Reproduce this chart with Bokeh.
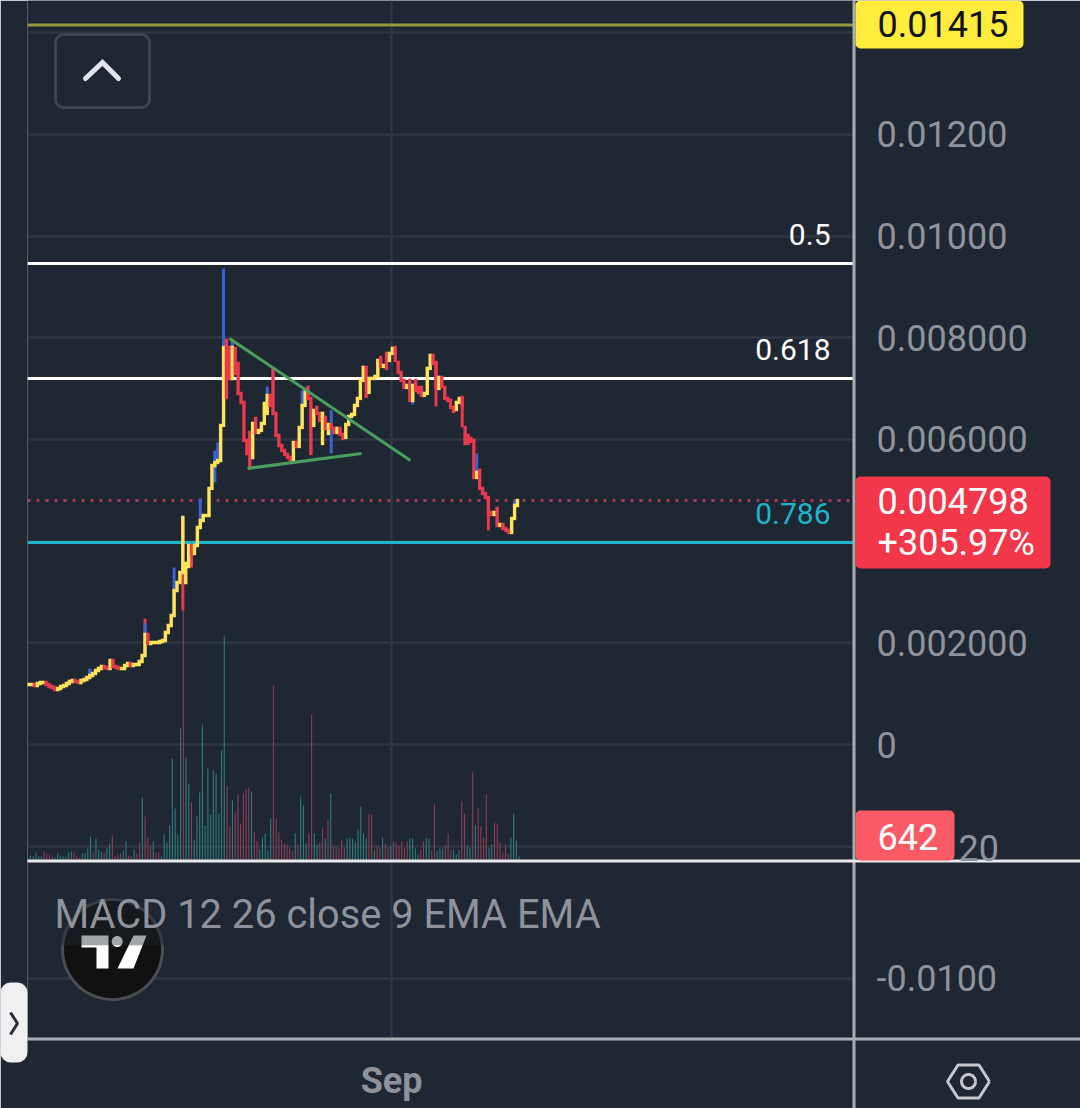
import numpy as np
from bokeh.embed import file_html
from bokeh.resources import INLINE
from bokeh.plotting import figure
from bokeh.core.properties import value
from bokeh.models import BoxAnnotation, FixedTicker, Range1d, Grid

# ---------------- data (prices in millionths) ----------------
closes_e6 = [
    1180, 1180, 1161, 1200, 1220, 1220, 1180, 1141, 1121, 1082,
    1102, 1141, 1161, 1200, 1239, 1259, 1239, 1220, 1259, 1279,
    1318, 1357, 1397, 1456, 1495, 1534, 1515, 1495, 1652, 1534,
    1515, 1495, 1495, 1554, 1593, 1554, 1574, 1574, 1633, 1751,
    2164, 1987, 2006, 2006, 2006, 2026, 2046, 2203, 2341, 2537,
    3029, 3187, 3383, 4465, 3560, 3914, 3757, 3914, 4268, 4406,
    4504, 4504, 5036, 5488, 5547, 5586, 6275, 7809, 6825, 7199,
    7809, 7298, 6904, 6727, 5980, 5724, 5468, 6314, 6137, 6176,
    6314, 6707, 6865, 6668, 6511, 6078, 5881, 5783, 5704, 5645,
    5567, 5940, 5862, 6235, 6668, 6963, 6806, 5724, 6570, 6511,
    6373, 6511, 6216, 6294, 6216, 6137, 6216, 6098, 6019, 6294,
    6452, 6491, 6668, 6806, 7160, 7416, 6845, 7199, 7199, 7239,
    7553, 7435, 7455, 7396, 7691, 7789, 7553, 7317, 7160, 7022,
    7062, 6766, 7062, 6963, 6924, 6865, 6904, 7396, 7652, 7494,
    7002, 7219, 7042, 6806, 6766, 6629, 6550, 6727, 6806, 6668,
    5921, 5921, 5960, 5252, 5350, 5036, 4937, 4858, 4563, 4524,
    4563, 4308, 4327, 4249, 4209, 4170, 4445, 4701, 4798,
]
gap_idx = [54, 55, 68, 69, 70, 71, 72, 76, 77, 78, 82, 83, 84, 91, 96, 98, 99, 101, 102, 103,
           109, 116, 117, 121, 123, 124, 126, 127, 131, 132, 133, 134, 135, 137, 139, 140,
           143, 147, 149, 150, 151, 152, 153, 155, 161]
gap_open = [3187, 3501, 7947, 7809, 7199, 7789, 7494, 6137, 5645, 6412, 6511, 6865, 7396, 5606,
            7022, 6275, 6629, 5920, 6432, 6117, 6039, 7416, 6924, 7612, 7691, 7553, 7809, 7514,
            7160, 6766, 7160, 7022, 7022, 6904, 7652, 7514, 7022, 6589, 6825, 6235, 6078, 6019,
            5980, 5390, 4642]
wick_idx = [21, 40, 40, 50, 53, 56, 59, 64, 65, 67, 70, 82, 94, 104, 132, 140, 149, 154, 158, 167]
wick_high = [1495, 2478, 2380, 3482, None, None, 4838, 5783, 5941, 9363, 7947, 7042, 6963, 6570,
             None, None, None, 5724, None, 4798]
wick_low = [None, None, None, None, 2636, 3481, 4308, 5154, None, None, None, None, None, 5724,
            6688, 6648, 6235, None, 4209, None]
wick_side = ["b", "r", "b", "b", "r", "r", "b", "b", "b", "b", "b", "b", "b", "b", "b", "r", "r", "b", "r", "b"]

volumes = [
    3, 5, 4, 8, 4, 4, 9, 7, 6, 4,
    3, 7, 5, 4, 4, 8, 9, 9, 5, 3,
    7, 7, 12, 24, 8, 22, 11, 9, 8, 12,
    17, 25, 4, 6, 7, 10, 19, 5, 4, 11,
    7, 18, 63, 44, 23, 15, 19, 8, 8, 4,
    26, 18, 35, 102, 52, 26, 132, 250, 103, 77,
    58, 21, 44, 68, 136, 35, 92, 46, 90, 87,
    47, 110, 224, 75, 34, 60, 49, 66, 37, 67,
    71, 73, 69, 29, 19, 11, 23, 27, 10, 42,
    175, 42, 28, 21, 17, 16, 12, 9, 27, 16,
    64, 55, 17, 27, 146, 27, 16, 18, 32, 22,
    41, 67, 14, 14, 12, 20, 13, 22, 23, 22,
    18, 31, 54, 27, 22, 47, 46, 10, 15, 13,
    23, 17, 13, 15, 19, 18, 15, 19, 12, 19,
    22, 22, 12, 6, 10, 19, 23, 22, 10, 56,
    10, 12, 12, 15, 27, 11, 11, 6, 10, 59,
    47, 15, 13, 88, 35, 52, 34, 23, 66, 13,
    16, 38, 36, 18, 8, 16, 7, 23, 47, 20,
    4,
]
volume_side = ("ggggggrrrr" "gggggggrrr" "ggggrgggrg" "grrrrggrrg" "rrgrrrgrrg" "gggggggrgg"
               "rggggggggg" "gggrrgrrrr" "rrgrrggggg" "rrrrrrrrgr" "gggrrggrrg" "rgrrrrrggg"
               "gggggrrgrr" "grrgrrrrrr" "ggggrrggrr" "gggrrrgggr" "rggrgrrrrg" "grrrrrrggg" "g")

fib_levels = [0.01415, 0.009459, 0.007198, 0.003972]
fib_names = ["", "0.5", "0.618", "0.786"]
last_price = 0.004798
trend_x = [[73.9, 140.2], [80.5, 122.3]]
trend_y = [[0.007984, 0.005585], [0.005428, 0.005723]]
grid_prices = [0.014, 0.012, 0.010, 0.008, 0.006, 0.004, 0.002, 0.0, -0.002, -0.0046]
price_ticks = {0.012: "0.01200", 0.010: "0.01000", 0.008: "0.008000", 0.006: "0.006000",
               0.002: "0.002000", 0.0: "0", -0.0046: "-0.0100"}
sep_bar = 133.3

BG = "#1f2733"
YEL, RED, BLUE = "#ffe45a", "#e8394e", "#3b63d6"
TEAL, VRED = "#2c7d7c", "#8b3f55"
AX = "#a9acb2"
TXT = "#8e939b"

# ---------------- screen helpers for chrome ----------------
BAR_PX, BAR_X0 = 2.73, 27.2
PX_PER_PRICE, ZERO_PY = 50850.0, 744.0
X = lambda px: (np.asarray(px, float) - BAR_X0) / BAR_PX
Y = lambda py: (ZERO_PY - np.asarray(py, float)) / PX_PER_PRICE

W, H = 1080, 1108
FL, FR, FT, FB = 27, 853, 0, 1038

p = figure(width=W, height=H, output_backend="svg", toolbar_location=None,
           x_range=Range1d(float(X(FL)), float(X(FR))), y_range=Range1d(float(Y(FB)), float(Y(FT))),
           y_axis_location="right", min_border_left=FL, min_border_right=W - FR,
           min_border_top=FT, min_border_bottom=H - FB,
           background_fill_color=BG, border_fill_color=BG, outline_line_color=None)
p.styles = {"position": "absolute", "left": "0px", "top": "0px"}
p.extra_y_ranges = {"vol": Range1d(860 - FB, 860 - FT)}

p.xgrid.visible = False
p.ygrid.visible = False
p.add_layout(Grid(dimension=1, ticker=FixedTicker(ticks=grid_prices), grid_line_color="#2f3744", grid_line_width=2.5))
p.add_layout(Grid(dimension=0, ticker=FixedTicker(ticks=[sep_bar]), grid_line_color="#2f3744", grid_line_width=2.5))

ya = p.yaxis[0]
ya.ticker = FixedTicker(ticks=list(price_ticks))
ya.major_label_overrides = price_ticks
ya.major_tick_line_color = None
ya.minor_tick_line_color = None
ya.axis_line_color = None
ya.major_label_standoff = 17
ya.major_label_text_font = "Roboto"
ya.major_label_text_font_size = "36px"
ya.major_label_text_color = TXT

xa = p.xaxis[0]
xa.ticker = FixedTicker(ticks=[sep_bar])
xa.major_label_overrides = {sep_bar: "Sep"}
xa.major_tick_line_color = None
xa.minor_tick_line_color = None
xa.axis_line_color = None
xa.major_label_standoff = 15
xa.major_label_text_font = "Roboto"
xa.major_label_text_font_style = "bold"
xa.major_label_text_font_size = "36px"
xa.major_label_text_color = TXT

# volume
vx = np.arange(len(volumes), dtype=float)
p.segment(vx, 0, vx, volumes, y_range_name="vol", line_width=1.1,
          line_color=[TEAL if s == "g" else VRED for s in volume_side])

# logo
th = np.linspace(0, 2 * np.pi, 80)
p.patch(X(112 + 50 * np.cos(th)), Y(949 + 50 * np.sin(th)), fill_color="#111111", line_color="#4a4d52", line_width=3)
p.patch(X([81, 108, 108, 96, 96, 81]), Y([935, 935, 968, 968, 947, 947]), fill_color="white", line_color=None)
p.patch(X([133, 146, 133, 117]), Y([935, 935, 968, 968]), fill_color="white", line_color=None)
p.patch(X(116.7 + 5.5 * np.cos(th)), Y(941 + 5.5 * np.sin(th)), fill_color="white", line_color=None)
th2 = np.linspace(np.pi + 0.08, 2 * np.pi - 0.08, 40)
p.patch(X(112 + 52 * np.cos(th2)), Y(949 + 52 * np.sin(th2)), fill_color=BG, fill_alpha=0.42, line_color=None)

# fib levels
p.segment(X(FL), fib_levels, X(FR), fib_levels, line_width=[3, 3.2, 3.2, 3.2],
          line_color=["#97973f", "#ffffff", "#ffffff", "#1eb4cc"])
p.segment(X(FL), last_price, X(FR), last_price, line_width=3, line_color="#a23d55", line_dash="3 6")

# candles
closes = np.array(closes_e6, float) / 1e6
opens = np.r_[closes[0], closes[:-1]]
opens[gap_idx] = np.array(gap_open, float) / 1e6
CANDLE_STEP, CANDLE_SHIFT = 2.91 / BAR_PX, (28.1 - BAR_X0) / BAR_PX
cx = np.arange(len(closes)) * CANDLE_STEP + CANDLE_SHIFT

wx, w0, w1, wc = [], [], [], []
for i, h, l, s in zip(wick_idx, wick_high, wick_low, wick_side):
    top = h / 1e6 if h is not None else max(opens[i], closes[i])
    bot = l / 1e6 if l is not None else min(opens[i], closes[i])
    wx.append(cx[i]); w0.append(bot); w1.append(top); wc.append(BLUE if s == "b" else RED)
p.segment(wx, w0, wx, w1, line_width=3, line_color=wc)
p.segment(cx, opens, cx, closes, line_width=3.4, line_cap="square",
          line_color=[YEL if c >= o else RED for o, c in zip(opens, closes)])

# trend lines
p.multi_line(trend_x, trend_y, line_color="#4b9f5d", line_width=3)

# fib labels
fx = [float(X(830))] * 3
p.text(fx, fib_levels[1:], text=fib_names[1:], text_font=value("Roboto"), text_font_size="30px",
       text_align="right", text_baseline="middle", y_offset=-29,
       text_color=["#ffffff", "#ffffff", "#1eb4cc"])

# collapse button
p.line(X([85, 102, 118]), Y([78, 62, 78]), line_color="#e2e5ea", line_width=5, line_cap="round", line_join="miter")
p.add_layout(BoxAnnotation(left=float(X(55)), right=float(X(149)), top=float(Y(34)), bottom=float(Y(107)),
                           fill_alpha=0, line_color="#3f444d", line_alpha=1, line_width=3, border_radius=8))

p.text([float(X(54))], [float(Y(914))], text=["MACD 12 26 close 9 EMA EMA"], text_font=value("Roboto"),
       text_font_size="39.8px", text_baseline="middle", text_color=TXT)

# ---------------- chrome layer: a transparent full-window figure in window pixels ----------------
q = figure(width=W, height=H, output_backend="svg", toolbar_location=None,
           x_range=Range1d(0, W), y_range=Range1d(H, 0), min_border=0,
           background_fill_alpha=0, border_fill_alpha=0, outline_line_color=None)
q.styles = {"position": "absolute", "left": "0px", "top": "0px"}
q.axis.visible = False
q.grid.visible = False


def box(l, t, r, b, color, radius=0):
    q.add_layout(BoxAnnotation(left=l, right=r, top=t, bottom=b, fill_color=color, fill_alpha=1,
                               line_alpha=0, border_radius=radius, level="underlay"))


def label(x, y, text, size, color):
    q.text([x], [y], text=[text], text_font=value("Roboto"), text_font_size=size, text_color=color,
           text_baseline="middle", text_align="left")


box(852, 0, 855, 1108, AX)
box(27, 859, 1080, 862, "#e8e8ea")
box(27, 1037, 1080, 1040, AX)
box(855, 0, 1023, 48, "#ffec3d", 5)
box(855, 476, 1050, 568, "#f2374a", 5)
box(855, 810, 954, 860, "#f95a66", 5)
box(0, 982, 27, 1062, "#f0f0f2", 10)

label(958, 847, "20", "36px", TXT)
label(877, 23, "0.01415", "36px", "#111111")
label(877, 500, "0.004798", "36px", "#ffffff")
label(877, 542, "+305.97%", "36px", "#ffffff")
label(877, 836, "642", "36px", "#ffffff")

q.line([10, 17, 10], [1012, 1023, 1034], line_color="#2a2e39", line_width=3)
ang = np.arange(7) * np.pi / 3
q.line(968 + 21 * np.cos(ang), 1081 + 19 * np.sin(ang), line_color="#c6c8cc", line_width=3)
ang2 = np.linspace(0, 2 * np.pi, 28)
q.line(968 + 7 * np.cos(ang2), 1081 + 7 * np.sin(ang2), line_color="#c6c8cc", line_width=3)

open("out.html", "w").write(file_html([p, q], INLINE))
